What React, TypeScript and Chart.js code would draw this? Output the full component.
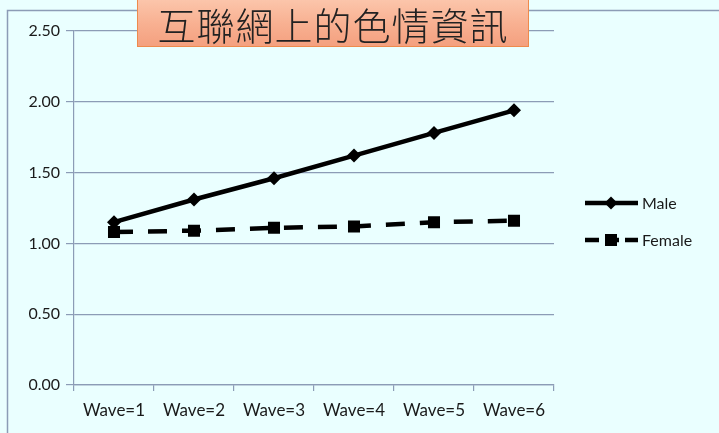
import React, { useEffect, useRef } from "react";
import { Chart, registerables } from "chart.js";

Chart.register(...registerables);

const categories = ["Wave=1", "Wave=2", "Wave=3", "Wave=4", "Wave=5", "Wave=6"];
const maleValues = [1.15, 1.31, 1.46, 1.62, 1.78, 1.94];
const femaleValues = [1.08, 1.09, 1.11, 1.12, 1.15, 1.16];
const seriesNames = ["Male", "Female"];
const titleText = "互聯網上的色情資訊";

const GRID = "#8c9cb6";
const BG = "#eaffff";
const FONT = "Lato, 'Liberation Sans', sans-serif";

const bgPlugin = {
  id: "bgFrame",
  beforeDraw(chart: any) {
    const { ctx, width, height } = chart;
    ctx.save();
    ctx.fillStyle = BG;
    ctx.fillRect(0, 0, width, height);
    ctx.strokeStyle = GRID;
    ctx.lineWidth = 1.5;
    ctx.beginPath();
    ctx.moveTo(7.5, height + 2);
    ctx.lineTo(7.5, 10.5);
    ctx.lineTo(width + 2, 10.5);
    ctx.stroke();
    ctx.restore();
  },
};

const legendPlugin = {
  id: "customLegend",
  afterDraw(chart: any) {
    const { ctx } = chart;
    const rows = [
      { y: 203, idx: 0 },
      { y: 240, idx: 1 },
    ];
    ctx.save();
    rows.forEach(({ y, idx }) => {
      const ds = chart.data.datasets[idx];
      ctx.strokeStyle = "#000";
      ctx.lineWidth = 4.5;
      ctx.setLineDash(idx === 1 ? [14, 6] : []);
      ctx.beginPath();
      ctx.moveTo(585, y);
      ctx.lineTo(638, y);
      ctx.stroke();
      ctx.setLineDash([]);
      ctx.fillStyle = "#000";
      ctx.beginPath();
      if (idx === 0) {
        const r = 6.5;
        ctx.moveTo(611, y - r);
        ctx.lineTo(611 + r, y);
        ctx.lineTo(611, y + r);
        ctx.lineTo(611 - r, y);
        ctx.closePath();
      } else {
        ctx.rect(605, y - 6, 12, 12);
      }
      ctx.fill();
      ctx.fillStyle = "#1a1a1a";
      ctx.font = `16px ${FONT}`;
      ctx.textBaseline = "middle";
      ctx.textAlign = "left";
      ctx.fillText(ds.label, 642, y + 1);
    });
    ctx.restore();
  },
};

export default function App() {
  const ref = useRef<HTMLCanvasElement | null>(null);

  useEffect(() => {
    document.body.style.margin = "0";
    const canvas = ref.current;
    if (!canvas) return;
    const chart = new Chart(canvas, {
      type: "line",
      data: {
        labels: categories,
        datasets: [
          {
            label: seriesNames[0],
            data: maleValues,
            borderColor: "#000",
            backgroundColor: "#000",
            borderWidth: 4.5,
            pointStyle: "rectRot",
            pointRadius: 7,
            pointBorderWidth: 0,
            tension: 0,
          },
          {
            label: seriesNames[1],
            data: femaleValues,
            borderColor: "#000",
            backgroundColor: "#000",
            borderWidth: 4.5,
            borderDash: [19, 15],
            pointStyle: "rect",
            pointRadius: 8.5,
            pointBorderWidth: 0,
            tension: 0,
          },
        ],
      },
      options: {
        animation: false,
        responsive: false,
        devicePixelRatio: 1,
        layout: { padding: { left: 0, right: 165, top: 31, bottom: 0 } },
        plugins: {
          legend: { display: false },
          tooltip: { enabled: false },
          title: { display: false },
        },
        scales: {
          x: {
            offset: true,
            grid: {
              offset: true,
              drawOnChartArea: false,
              drawTicks: true,
              tickLength: 6,
              color: GRID,
              lineWidth: 1.2,
            },
            border: { color: GRID, width: 1.2 },
            ticks: {
              color: "#1a1a1a",
              font: { family: FONT, size: 17 },
              padding: 9,
              maxRotation: 0,
              autoSkip: false,
            },
            afterFit: (s: any) => {
              s.height = 48;
            },
          },
          y: {
            min: 0,
            max: 2.5,
            ticks: {
              stepSize: 0.5,
              color: "#1a1a1a",
              font: { family: FONT, size: 16 },
              padding: 6,
              callback: (v: any) => Number(v).toFixed(2),
            },
            grid: {
              color: GRID,
              lineWidth: 1.2,
              tickLength: 8,
            },
            border: { color: GRID, width: 1.2 },
            afterFit: (s: any) => {
              s.width = 74;
            },
          },
        },
      },
      plugins: [bgPlugin, legendPlugin],
    });
    return () => chart.destroy();
  }, []);

  return (
    <div style={{ position: "fixed", left: 0, top: 0, width: 719, height: 433 }}>
      <canvas ref={ref} width={719} height={433} style={{ display: "block" }} />
      <div
        style={{
          position: "absolute",
          left: 137,
          top: -4,
          width: 392,
          height: 51,
          boxSizing: "border-box",
          border: "1.5px solid #ee8a4c",
          background: "linear-gradient(to bottom, #fcc8ae 0%, #f8b091 55%, #f4a07f 100%)",
          display: "flex",
          alignItems: "center",
          justifyContent: "center",
          paddingTop: 4,
          fontFamily: "'Noto Sans CJK TC', 'Noto Sans CJK SC', sans-serif",
          fontWeight: 300,
          fontSize: 38,
          color: "#222",
          letterSpacing: 1,
          whiteSpace: "nowrap",
          lineHeight: 1,
        }}
      >
        {titleText}
      </div>
    </div>
  );
}
